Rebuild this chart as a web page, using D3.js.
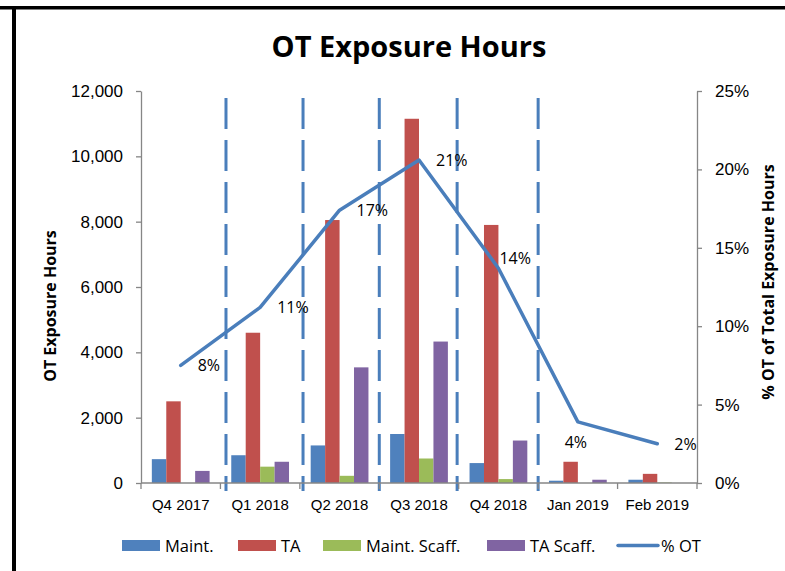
<!DOCTYPE html>
<html>
<head>
<meta charset="utf-8">
<script src="https://cdn.jsdelivr.net/npm/d3@7"></script>
<style>
  body { margin: 0; background: #fff; }
  svg { display: block; font-family: "Open Sans", "Liberation Sans", sans-serif; }
  .axis path, .axis line { stroke: #868686; stroke-width: 1.3; }
  .axis text { fill: #000; font-size: 17px; }
  .axis.cat text { font-size: 15px; }
</style>
</head>
<body>
<svg width="785" height="571"></svg>
<script>
// chart values
var categories = ['Q4 2017', 'Q1 2018', 'Q2 2018', 'Q3 2018', 'Q4 2018', 'Jan 2019', 'Feb 2019'];
var seriesNames = ['Maint.', 'TA', 'Maint. Scaff.', 'TA Scaff.'];
var maint      = [730, 850, 1150, 1500, 610, 70, 100];
var ta         = [2500, 4600, 8050, 11150, 7900, 650, 280];
var maintScaff = [0, 500, 220, 750, 120, 0, 15];
var taScaff    = [370, 650, 3540, 4330, 1300, 100, 0];
var pctOT      = [0.075, 0.112, 0.174, 0.206, 0.137, 0.039, 0.025];
var pctLabels  = ['8%', '11%', '17%', '21%', '14%', '4%', '2%'];
var leftTicks  = [0, 2000, 4000, 6000, 8000, 10000, 12000];
var rightTicks = [0, 0.05, 0.10, 0.15, 0.20, 0.25];
// dashed separators, in category units along the x axis
var dividers   = [1.07, 2.04, 3.0, 3.98, 5.0];

var colors = ['#4F81BD', '#C0504D', '#9BBB59', '#8064A2'];
var lineColor = '#4A7EBB';
// where each % label sits relative to its point
var labelPlace = ['right', 'right', 'right', 'right', 'above', 'below', 'right'];

var svg = d3.select('svg');
var plot = {l: 141, r: 697, t: 91, b: 483};

// frame lines
svg.append('rect').attr('x', 0).attr('y', 6).attr('width', 785).attr('height', 3.5).attr('fill', '#000');
svg.append('rect').attr('x', 12).attr('y', 6).attr('width', 4).attr('height', 565).attr('fill', '#000');

// title
svg.append('text')
    .attr('x', 409).attr('y', 57)
    .attr('text-anchor', 'middle')
    .style('font-size', '29px').style('font-weight', 'bold')
    .text('OT Exposure Hours');

var x0 = d3.scaleBand().domain(categories).range([plot.l, plot.r]);
var barW = x0.bandwidth() / 5.5;
var x1 = d3.scaleBand().domain(seriesNames)
    .range([barW * 0.75, x0.bandwidth() - barW * 0.75]);
var yL = d3.scaleLinear().domain([0, 12000]).range([plot.b, plot.t]);
var yR = d3.scaleLinear().domain([0, 0.25]).range([plot.b, plot.t]);

// bars
var seriesData = [maint, ta, maintScaff, taScaff];
var rows = categories.map(function(c, i) {
    return seriesNames.map(function(s, k) { return {cat: c, name: s, value: seriesData[k][i], k: k}; });
});
var groups = svg.append('g').selectAll('g.cat')
    .data(rows).enter().append('g')
    .attr('transform', function(d, i) { return 'translate(' + x0(categories[i]) + ',0)'; });
groups.selectAll('rect')
    .data(function(d) { return d; })
    .enter().append('rect')
    .attr('x', function(d) { return x1(d.name); })
    .attr('width', x1.bandwidth())
    .attr('y', function(d) { return yL(d.value); })
    .attr('height', function(d) { return plot.b - yL(d.value); })
    .attr('fill', function(d) { return colors[d.k]; });

// dashed dividers
var xUnit = d3.scaleLinear().domain([0, categories.length]).range([plot.l, plot.r]);
svg.append('g').selectAll('line')
    .data(dividers).enter().append('line')
    .attr('x1', function(d) { return xUnit(d); })
    .attr('x2', function(d) { return xUnit(d); })
    .attr('y1', 98).attr('y2', 491)
    .attr('stroke', '#4A7EBB').attr('stroke-width', 3)
    .attr('stroke-dasharray', '31,11');

// axes
svg.append('g').attr('class', 'axis')
    .attr('transform', 'translate(' + plot.l + ',0)')
    .call(d3.axisLeft(yL).tickValues(leftTicks).tickFormat(d3.format(',')).tickSize(5).tickSizeOuter(0).tickPadding(13));
svg.append('g').attr('class', 'axis')
    .attr('transform', 'translate(' + plot.r + ',0)')
    .call(d3.axisRight(yR).tickValues(rightTicks).tickFormat(d3.format('.0%')).tickSize(5).tickSizeOuter(0).tickPadding(13));

var xAxisG = svg.append('g').attr('class', 'axis cat')
    .attr('transform', 'translate(0,' + plot.b + ')');
xAxisG.call(d3.axisBottom(x0).tickSize(0).tickPadding(16));
xAxisG.select('.domain').remove();
xAxisG.append('line').attr('x1', plot.l).attr('x2', plot.r).attr('y1', 0).attr('y2', 0);
xAxisG.selectAll('line.bound')
    .data(d3.range(categories.length + 1)).enter().append('line')
    .attr('class', 'bound')
    .attr('x1', function(d) { return xUnit(d); })
    .attr('x2', function(d) { return xUnit(d); })
    .attr('y1', 0).attr('y2', 6);

// % OT line
var cx = function(d, i) { return x0(categories[i]) + x0.bandwidth() / 2; };
var line = d3.line().x(cx).y(function(d) { return yR(d); });
svg.append('path')
    .datum(pctOT)
    .attr('d', line)
    .attr('fill', 'none')
    .attr('stroke', lineColor)
    .attr('stroke-width', 3.5)
    .attr('stroke-linejoin', 'round')
    .attr('stroke-linecap', 'round');

svg.append('g').selectAll('text')
    .data(pctOT).enter().append('text')
    .attr('x', function(d, i) {
        var p = labelPlace[i];
        return cx(d, i) + (p == 'right' ? 17 : p == 'above' ? 1 : -2);
    })
    .attr('y', function(d, i) {
        var p = labelPlace[i];
        return yR(d) + (p == 'right' ? 6 : p == 'above' ? -4 : 26);
    })
    .attr('text-anchor', function(d, i) { return labelPlace[i] == 'below' ? 'middle' : 'start'; })
    .style('font-size', '16px')
    .text(function(d, i) { return pctLabels[i]; });

// axis titles
svg.append('text')
    .attr('transform', 'translate(56,306) rotate(-90)')
    .attr('text-anchor', 'middle')
    .style('font-size', '16px').style('font-weight', 'bold')
    .text('OT Exposure Hours');
svg.append('text')
    .attr('transform', 'translate(774,282) rotate(-90)')
    .attr('text-anchor', 'middle')
    .style('font-size', '16px').style('font-weight', 'bold')
    .text('% OT of Total Exposure Hours');

// legend
var legendX = [122, 238, 323, 487];
var legend = svg.append('g');
seriesNames.forEach(function(s, k) {
    legend.append('rect').attr('x', legendX[k]).attr('y', 540).attr('width', 38).attr('height', 11).attr('fill', colors[k]);
    legend.append('text').attr('x', legendX[k] + 43).attr('y', 551.5).style('font-size', '16.5px').text(s);
});
legend.append('line').attr('x1', 618).attr('x2', 658).attr('y1', 545.5).attr('y2', 545.5)
    .attr('stroke', lineColor).attr('stroke-width', 3.5).attr('stroke-linecap', 'round');
legend.append('text').attr('x', 661).attr('y', 551.5).style('font-size', '16.5px').text('% OT');
</script>
</body>
</html>
